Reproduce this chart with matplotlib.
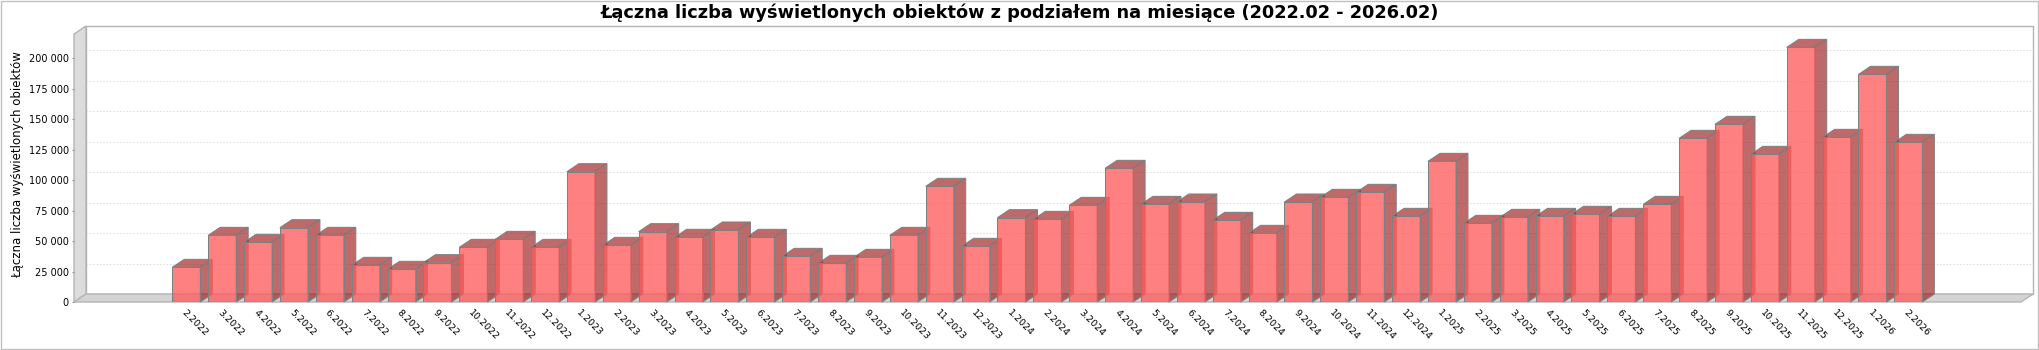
import matplotlib
matplotlib.use("Agg")
import matplotlib.pyplot as plt
from matplotlib.patches import Polygon, Rectangle
from matplotlib.ticker import FuncFormatter

plt.rcParams['font.family'] = ['DejaVu Sans']

# Monthly totals of displayed objects
months = ["2.2022", "3.2022", "4.2022", "5.2022", "6.2022", "7.2022", "8.2022", "9.2022",
          "10.2022", "11.2022", "12.2022",
          "1.2023", "2.2023", "3.2023", "4.2023", "5.2023", "6.2023", "7.2023", "8.2023",
          "9.2023", "10.2023", "11.2023", "12.2023",
          "1.2024", "2.2024", "3.2024", "4.2024", "5.2024", "6.2024", "7.2024", "8.2024",
          "9.2024", "10.2024", "11.2024", "12.2024",
          "1.2025", "2.2025", "3.2025", "4.2025", "5.2025", "6.2025", "7.2025", "8.2025",
          "9.2025", "10.2025", "11.2025", "12.2025",
          "1.2026", "2.2026"]
views = [28450, 54720, 48970, 61010, 54720, 30100, 26810, 32280, 44870, 51430, 44870,
         106970, 46510, 57730, 53080, 59100, 53080, 37480, 31740, 36660, 54720, 94940, 45690,
         69220, 67850, 79340, 109710, 80160, 82080, 67030, 56360, 82080, 85910, 90010, 70310,
         115460, 64570, 69490, 70310, 71960, 70310, 80160, 134340, 145830, 121210, 209030, 135160,
         186870, 131050]
y_ticks = [0, 25000, 50000, 75000, 100000, 125000, 150000, 175000, 200000]

title = "Łączna liczba wyświetlonych obiektów z podziałem na miesiące (2022.02 - 2026.02)"
y_label = "Łączna liczba wyświetlonych obiektów"

W, H, DPI = 2040, 350, 100
fig = plt.figure(figsize=(W / DPI, H / DPI), dpi=DPI)
fig.patch.set_facecolor("white")

# front plane of the 3D plot, in pixels
left_px, right_px, bottom_px, top_px = 74, 2021, 48, 316
ax = fig.add_axes([left_px / W, bottom_px / H, (right_px - left_px) / W, (top_px - bottom_px) / H])
ax.set_facecolor("none")
for s in ax.spines.values():
    s.set_visible(False)

n = len(views)
x0, x1 = -3.13, n - 1 + 3.14
y0, y1 = 0, 220000
ax.set_xlim(x0, x1)
ax.set_ylim(y0, y1)

# depth offset of the 3D effect (12 px right, 8 px up) in data units
ddx = 12 * (x1 - x0) / (right_px - left_px)
ddy = 8 * (y1 - y0) / (top_px - bottom_px)

wall_face = "#dcdcdc"
floor_face = "#d4d4d4"
wall_edge = "#b4b4b4"

# back wall
ax.add_patch(Rectangle((x0 + ddx, y0 + ddy), x1 - x0, y1 - y0, facecolor="white",
                       edgecolor=wall_edge, lw=1.0, clip_on=False, zorder=0))
# left wall
ax.add_patch(Polygon([(x0, y0), (x0, y1), (x0 + ddx, y1 + ddy), (x0 + ddx, y0 + ddy)],
                     closed=True, facecolor=wall_face, edgecolor=wall_edge, lw=1.0,
                     clip_on=False, zorder=0.5))
# floor
ax.add_patch(Polygon([(x0, y0), (x1, y0), (x1 + ddx, y0 + ddy), (x0 + ddx, y0 + ddy)],
                     closed=True, facecolor=floor_face, edgecolor=wall_edge, lw=1.0,
                     clip_on=False, zorder=0.5))

# dashed gridlines on the back wall
for t in y_ticks[1:]:
    ax.plot([x0 + ddx, x1 + ddx], [t + ddy, t + ddy], color="#dadada", lw=0.6,
            linestyle=(0, (2.0, 2.0)), clip_on=False, zorder=0.2)

# bars: translucent red front face with darker side and top
bw = 28 / 35.875
front_col = (1.0, 0.353, 0.353, 0.77)
side_col = (0.6, 0.06, 0.06, 0.62)
edge_col = "#808080"
z = 2
for i, v in enumerate(views):
    xl, xr = i - bw / 2, i + bw / 2
    top = Polygon([(xl, v), (xr, v), (xr + ddx, v + ddy), (xl + ddx, v + ddy)], closed=True,
                  facecolor=side_col, edgecolor=edge_col, lw=0.75, clip_on=False, zorder=z)
    side = Polygon([(xr, 0), (xr, v), (xr + ddx, v + ddy), (xr + ddx, ddy)], closed=True,
                   facecolor=side_col, edgecolor=edge_col, lw=0.75, clip_on=False, zorder=z)
    ax.add_patch(side)
    ax.add_patch(top)
    ax.bar(i, v, width=bw, color=front_col, edgecolor=edge_col, linewidth=0.75, zorder=z + 0.5)
    z += 1

# axes ticks and labels
ax.set_yticks(y_ticks)
ax.yaxis.set_major_formatter(FuncFormatter(lambda v, p: f"{int(v):,}".replace(",", " ")))
ax.tick_params(axis="y", length=1.6, width=0.7, color="#909090", pad=2.2, labelsize=7,
               labelcolor="black")
ax.set_xticks(range(n))
ax.set_xticklabels(months, rotation=-45, ha="left", va="top", rotation_mode="anchor", fontsize=6.8)
ax.tick_params(axis="x", length=0, pad=4.5)

fig.text(18 / W, 1 - 165 / H, y_label, rotation=90, ha="center", va="center", fontsize=8.5)
fig.text(0.5, 1 - 12.5 / H, title, ha="center", va="center", fontsize=12.8, fontweight="bold")

# outer frame of the image
fig.patches.append(Rectangle((1 / W, 1 / H), 2037 / W, 348 / H, transform=fig.transFigure,
                             facecolor="none", edgecolor="#c0c0c0", lw=1.0))

fig.savefig("out.png", dpi=DPI)
